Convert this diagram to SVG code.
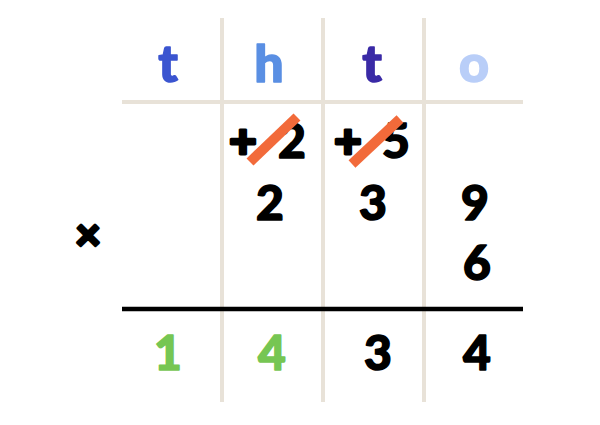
<svg xmlns="http://www.w3.org/2000/svg" width="600" height="425" viewBox="0 0 600 425">
<style>
.grid{stroke:#e8e2d8;stroke-width:4;fill:none}
.d{font-family:Lato,"Open Sans",sans-serif;font-weight:900;font-size:48px;text-anchor:middle;stroke-width:1.5;stroke-linejoin:round}
.k{fill:#000;stroke:#000}
.g{fill:#76c653;stroke:#76c653}
.h{font-family:Lato,"Open Sans",sans-serif;font-weight:900;font-size:52px;text-anchor:middle;stroke-width:1.5;stroke-linejoin:round}
.strike{stroke:#f26a3a;stroke-width:10}
</style>
<rect width="600" height="425" fill="#fff"/>
<g id="grid">
<line class="grid" x1="222" y1="18" x2="222" y2="402"/>
<line class="grid" x1="323" y1="18" x2="323" y2="402"/>
<line class="grid" x1="424" y1="18" x2="424" y2="402"/>
<line class="grid" x1="122" y1="102" x2="523" y2="102"/>
<line x1="122" y1="309" x2="523" y2="309" stroke="#000" stroke-width="4.5"/>
</g>
<g id="header">
<text class="h" x="168" y="82" fill="#3b55d0" stroke="#3b55d0">t</text>
<text class="h" x="269" y="82" fill="#5a8fe3" stroke="#5a8fe3">h</text>
<text class="h" x="372" y="82" fill="#3a2aa6" stroke="#3a2aa6">t</text>
<text class="h" x="474" y="82" fill="#b9cef8" stroke="#b9cef8">o</text>
</g>
<g id="carries">
<text class="d k" x="243" y="158" style="stroke-width:3">+</text>
<text class="d k" x="292" y="158">2</text>
<line class="strike" x1="250" y1="162" x2="297" y2="117"/>
<text class="d k" x="348" y="158" style="stroke-width:3">+</text>
<text class="d k" x="396" y="158">5</text>
<line class="strike" x1="352" y1="164" x2="400" y2="119"/>
</g>
<g id="numbers">
<text class="d k" x="270" y="220">2</text>
<text class="d k" x="373" y="220">3</text>
<text class="d k" x="475" y="220">9</text>
<text class="d k" x="477" y="280">6</text>
<text class="d k" x="88" y="250" style="font-size:44px;stroke-width:3">×</text>
</g>
<g id="result">
<text class="d g" x="168" y="370">1</text>
<text class="d g" x="272" y="370">4</text>
<text class="d k" x="378" y="370">3</text>
<text class="d k" x="477" y="370">4</text>
</g>
</svg>
